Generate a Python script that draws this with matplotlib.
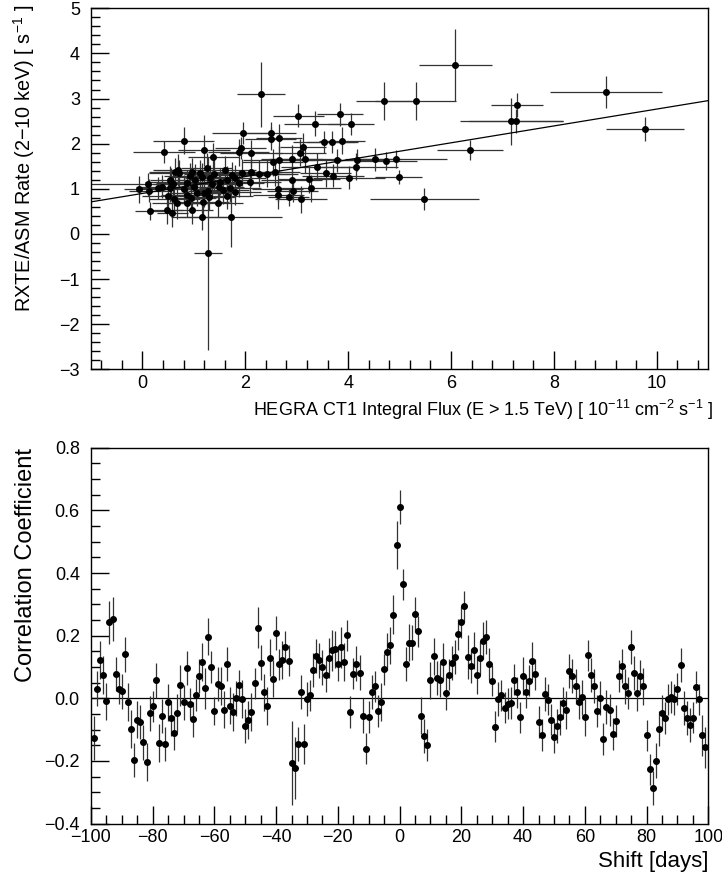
"""Two-panel figure: CT1 flux vs ASM rate (top), cross-correlation vs shift (bottom)."""
import matplotlib
matplotlib.use("Agg")
import matplotlib.pyplot as plt
from matplotlib.ticker import MultipleLocator
import numpy as np

plt.rcParams["font.family"] = ["Liberation Sans", "DejaVu Sans"]
plt.rcParams["mathtext.fontset"] = "custom"
plt.rcParams["mathtext.rm"] = "Liberation Sans"
plt.rcParams["mathtext.default"] = "regular"

# --- top panel: HEGRA CT1 flux vs RXTE/ASM rate ---
FLUX = [6.08, 9.02, 9.77, 7.28, 7.17, 7.26, 6.37, 4.73, 4.93, 4.98,
        5.48, 2.31, 4.70, 5.31, 3.03, 3.36, 3.84, 4.05, 1.95, 2.49,
        2.49, 2.65, 0.80, 0.42, 1.20, 1.38, 1.91, 1.87, 2.11, 3.53,
        3.69, 3.88, 3.12, 3.07, 2.53, 2.66, 2.91, 3.16, 3.79, 4.17,
        4.53, 3.40, 4.16, 3.56, 3.71, 4.01, 2.90, 3.24, 2.92, 3.27,
        3.08, 2.84, 2.63, 2.64, 2.10, 2.11, 2.26, 2.43, 2.57, 1.93,
        0.70, 0.11, 0.13, 0.31, 0.55, 0.60, 0.54, 0.15, 0.48, 0.58,
        0.50, 0.62, 0.68, 0.97, 1.16, 1.28, 1.72, 1.46, 1.30, 1.28,
        1.18, -0.06, 0.86, 0.94, 0.54, 0.86, 1.02, 1.15, 1.32, 1.51,
        1.64, 1.80, 1.87, 0.63, 0.72, 0.96, 1.12, 1.48, 1.57, 1.70,
        0.86, 1.06, 1.19, 1.61, 1.75, 1.40, 1.00, 0.80, 1.35, 1.65,
        1.80, 0.38, 0.92, 1.25]
RATE = [3.75, 3.15, 2.32, 2.86, 2.50, 2.50, 1.86, 1.62, 1.65, 1.26,
        0.77, 3.10, 2.95, 2.95, 2.62, 2.44, 2.65, 2.44, 2.24, 2.24,
        2.11, 2.13, 2.07, 1.82, 1.85, 1.71, 1.90, 1.81, 1.79, 2.04,
        2.04, 2.07, 1.93, 1.80, 1.59, 1.64, 1.66, 1.65, 1.63, 1.64,
        1.65, 1.49, 1.49, 1.34, 1.29, 1.25, 1.20, 1.21, 0.96, 1.01,
        0.77, 0.81, 1.00, 0.86, 1.14, 1.37, 1.33, 1.33, 1.37, 1.36,
        1.42, 1.10, 0.96, 1.02, 1.16, 1.11, 1.01, 0.51, 0.53, 0.46,
        0.85, 0.77, 0.68, 0.53, 0.38, -0.43, 0.37, 0.68, 0.82, 0.94,
        0.71, 0.99, 0.68, 0.79, 1.20, 1.12, 1.20, 1.27, 1.23, 1.16,
        1.20, 1.23, 1.12, 1.38, 1.34, 1.38, 1.34, 1.05, 0.97, 1.01,
        0.86, 0.91, 0.90, 1.42, 1.30, 1.33, 1.05, 1.00, 1.10, 0.85,
        0.93, 1.05, 1.28, 1.45]
FLUX_ERR = [0.71, 1.09, 0.75, 0.51, 1.00, 0.92, 0.64, 0.60, 1.00, 0.45,
            1.06, 0.47, 0.55, 0.78, 0.50, 0.60, 0.45, 0.45, 0.60, 0.50,
            0.50, 0.45, 0.60, 0.60, 0.50, 0.50, 0.50, 0.60, 0.60, 0.60,
            0.50, 0.45, 0.45, 0.50, 0.60, 0.70, 0.60, 0.70, 0.60, 0.50,
            0.50, 0.70, 0.80, 0.50, 0.60, 0.70, 0.60, 0.60, 0.50, 0.60,
            0.50, 0.40, 0.50, 0.50, 0.60, 0.60, 0.60, 0.60, 0.50, 0.60,
            0.50, 1.10, 0.40, 0.40, 0.50, 0.40, 0.50, 0.30, 0.30, 0.30,
            0.50, 0.50, 0.50, 0.40, 0.60, 0.27, 1.00, 0.50, 0.50, 0.40,
            0.50, 0.30, 0.40, 0.50, 0.40, 0.60, 0.50, 0.60, 0.50, 0.60,
            0.50, 0.60, 0.50, 0.50, 0.60, 0.70, 0.60, 0.50, 0.50, 0.60,
            0.50, 0.50, 0.50, 0.60, 0.70, 0.60, 0.50, 0.50, 0.50, 0.50,
            0.50, 0.50, 0.50, 0.50]
RATE_ERR = [0.80, 0.36, 0.27, 0.26, 0.52, 0.26, 0.22, 0.20, 0.20, 0.15,
            0.24, 0.72, 0.42, 0.42, 0.25, 0.28, 0.25, 0.25, 0.25, 0.25,
            0.25, 0.30, 0.30, 0.25, 0.35, 0.30, 0.25, 0.30, 0.30, 0.25,
            0.25, 0.30, 0.30, 0.30, 0.30, 0.30, 0.30, 0.30, 0.25, 0.25,
            0.25, 0.30, 0.30, 0.30, 0.25, 0.25, 0.30, 0.30, 0.25, 0.30,
            0.30, 0.20, 0.30, 0.30, 0.30, 0.30, 0.30, 0.30, 0.30, 0.30,
            0.35, 0.25, 0.25, 0.25, 0.30, 0.30, 0.30, 0.20, 0.30, 0.30,
            0.30, 0.30, 0.35, 0.30, 0.30, 2.14, 0.65, 0.30, 0.30, 0.30,
            0.30, 0.30, 0.30, 0.30, 0.30, 0.30, 0.35, 0.30, 0.30, 0.30,
            0.30, 0.30, 0.30, 0.30, 0.30, 0.30, 0.30, 0.30, 0.30, 0.30,
            0.30, 0.30, 0.30, 0.30, 0.30, 0.35, 0.30, 0.30, 0.30, 0.30,
            0.30, 0.25, 0.30, 0.35]
FIT_INTERCEPT = 0.897
FIT_SLOPE = 0.187

# --- bottom panel: correlation coefficient vs time shift ---
SHIFT = np.arange(-99, 100)
CORR = [-0.126, 0.031, 0.123, 0.074, -0.010, 0.243, 0.252, 0.078, 0.031, 0.022,
        0.140, -0.012, -0.098, -0.198, -0.068, -0.076, -0.141, -0.204, -0.048, -0.026,
        0.057, -0.143, -0.056, -0.145, -0.013, -0.064, -0.110, -0.047, 0.041, -0.013,
        0.097, -0.017, -0.067, 0.011, 0.071, 0.116, 0.032, 0.197, 0.100, -0.041,
        0.046, 0.040, -0.036, 0.110, -0.023, -0.043, 0.000, 0.041, -0.003, -0.089,
        -0.070, -0.044, 0.048, 0.226, 0.114, 0.019, -0.024, 0.130, 0.063, 0.209,
        0.109, 0.122, 0.165, 0.120, -0.206, -0.222, -0.146, 0.020, -0.146, -0.003,
        0.009, 0.090, 0.135, 0.121, 0.099, 0.074, 0.129, 0.153, 0.156, 0.111,
        0.163, 0.116, 0.201, -0.044, 0.079, 0.111, 0.082, -0.055, -0.161, -0.060,
        0.020, 0.038, -0.041, -0.012, 0.093, 0.149, 0.169, 0.267, 0.490, 0.611,
        0.364, 0.110, 0.178, 0.178, 0.268, 0.214, -0.055, -0.121, -0.149, 0.057,
        0.134, 0.065, 0.059, 0.117, 0.017, 0.076, 0.112, 0.132, 0.204, 0.244,
        0.294, 0.131, 0.103, 0.153, 0.074, 0.129, 0.184, 0.196, 0.110, 0.056,
        -0.091, -0.002, 0.010, -0.030, -0.017, -0.015, 0.060, 0.019, -0.061, 0.072,
        0.020, 0.056, 0.120, 0.077, -0.076, -0.117, 0.013, -0.004, -0.068, -0.123,
        -0.089, -0.061, -0.015, -0.037, 0.088, 0.072, 0.038, -0.012, 0.003, -0.061,
        0.137, 0.074, 0.040, -0.040, 0.001, -0.130, -0.028, -0.037, -0.114, -0.072,
        0.071, 0.103, 0.038, 0.017, 0.164, 0.081, 0.016, 0.072, 0.038, -0.118,
        -0.227, -0.286, -0.199, -0.097, -0.046, -0.063, -0.003, 0.004, -0.003, 0.030,
        0.107, -0.031, -0.062, -0.085, -0.062, 0.036, -0.003, -0.118, -0.157]
CORR_ERR = [0.070, 0.055, 0.060, 0.060, 0.060, 0.069, 0.070, 0.055, 0.050, 0.055,
            0.055, 0.060, 0.060, 0.054, 0.060, 0.055, 0.055, 0.060, 0.055, 0.050,
            0.055, 0.060, 0.055, 0.055, 0.060, 0.055, 0.055, 0.060, 0.065, 0.055,
            0.055, 0.050, 0.055, 0.050, 0.055, 0.060, 0.065, 0.058, 0.050, 0.045,
            0.055, 0.060, 0.060, 0.055, 0.060, 0.060, 0.055, 0.050, 0.060, 0.055,
            0.060, 0.060, 0.050, 0.064, 0.055, 0.060, 0.060, 0.060, 0.060, 0.055,
            0.050, 0.060, 0.050, 0.050, 0.134, 0.100, 0.055, 0.055, 0.065, 0.055,
            0.050, 0.055, 0.055, 0.055, 0.055, 0.055, 0.065, 0.065, 0.060, 0.055,
            0.065, 0.060, 0.050, 0.050, 0.050, 0.055, 0.055, 0.055, 0.050, 0.050,
            0.055, 0.050, 0.050, 0.060, 0.050, 0.060, 0.060, 0.062, 0.077, 0.055,
            0.050, 0.055, 0.060, 0.055, 0.055, 0.050, 0.060, 0.055, 0.050, 0.060,
            0.060, 0.055, 0.055, 0.060, 0.055, 0.050, 0.055, 0.055, 0.050, 0.050,
            0.050, 0.070, 0.055, 0.060, 0.060, 0.055, 0.060, 0.055, 0.050, 0.050,
            0.050, 0.055, 0.050, 0.050, 0.050, 0.050, 0.050, 0.050, 0.050, 0.060,
            0.050, 0.050, 0.060, 0.050, 0.050, 0.050, 0.055, 0.050, 0.050, 0.050,
            0.055, 0.055, 0.050, 0.060, 0.055, 0.055, 0.055, 0.055, 0.055, 0.060,
            0.050, 0.055, 0.055, 0.050, 0.055, 0.050, 0.055, 0.050, 0.050, 0.050,
            0.050, 0.055, 0.055, 0.050, 0.055, 0.055, 0.055, 0.050, 0.060, 0.050,
            0.050, 0.053, 0.055, 0.055, 0.055, 0.050, 0.050, 0.050, 0.050, 0.050,
            0.055, 0.055, 0.055, 0.055, 0.050, 0.050, 0.050, 0.065, 0.065]

TICK_FS = 13

fig = plt.figure(figsize=(7.22, 8.82), dpi=100)
ax1 = fig.add_axes([0.126, 0.5813, 0.855, 0.4093])
ax2 = fig.add_axes([0.126, 0.0662, 0.855, 0.4262])

# top panel
ax1.errorbar(FLUX, RATE, xerr=FLUX_ERR, yerr=RATE_ERR, fmt="o", color="black",
             ecolor="#333333", elinewidth=0.9, markersize=4, capsize=0)
xf = np.array([-1, 11])
ax1.plot(xf, FIT_INTERCEPT + FIT_SLOPE * xf, color="black", lw=0.9)
ax1.set_xlim(-1, 11)
ax1.set_ylim(-3, 5)
ax1.xaxis.set_major_locator(MultipleLocator(2))
ax1.xaxis.set_minor_locator(MultipleLocator(0.4))
ax1.yaxis.set_major_locator(MultipleLocator(1))
ax1.yaxis.set_minor_locator(MultipleLocator(0.2))
ax1.set_xlabel("HEGRA CT1 Integral Flux (E > 1.5 TeV) [ 10$^{-11}$ cm$^{-2}$ s$^{-1}$ ]",
               fontsize=13, loc="right")
ax1.set_ylabel("RXTE/ASM Rate (2\u221210 keV) [ s$^{-1}$ ]", fontsize=14.3, loc="top")
ax1.xaxis.set_label_coords(1.008, -0.08)
ax1.yaxis.set_label_coords(-0.088, 1.01)

# bottom panel
ax2.axhline(0, color="black", lw=0.9)
ax2.errorbar(SHIFT, CORR, yerr=CORR_ERR, fmt="o", color="black",
             ecolor="#333333", elinewidth=0.9, markersize=4, capsize=0)
ax2.set_xlim(-100, 100)
ax2.set_ylim(-0.4, 0.8)
ax2.xaxis.set_major_locator(MultipleLocator(20))
ax2.xaxis.set_minor_locator(MultipleLocator(5))
ax2.yaxis.set_major_locator(MultipleLocator(0.2))
ax2.yaxis.set_minor_locator(MultipleLocator(0.05))
ax2.set_xlabel("Shift [days]", fontsize=16, loc="right")
ax2.set_ylabel("Correlation Coefficient", fontsize=17, loc="top")
ax2.xaxis.set_label_coords(1.0, -0.072)
ax2.yaxis.set_label_coords(-0.088, 1.0)

for ax in (ax1, ax2):
    ax.tick_params(which="both", direction="in", top=False, right=False,
                   labelsize=TICK_FS, width=1)
    ax.tick_params(which="major", length=13)
    ax.tick_params(which="minor", length=6.5)
    ax.tick_params(axis="x", pad=4)
    ax.tick_params(axis="y", pad=8)
    for s in ax.spines.values():
        s.set_linewidth(1.0)

fig.savefig("out.png", dpi=100)
